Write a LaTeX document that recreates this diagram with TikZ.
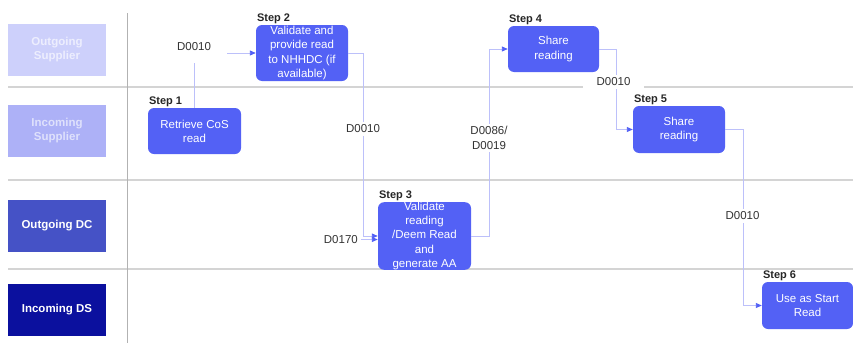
\documentclass[tikz,border=0pt]{standalone}
\usepackage{fontspec}
\setmainfont{Liberation Sans}
\usetikzlibrary{arrows.meta}
\definecolor{stepblue}{HTML}{5361F5}
\definecolor{arrowblue}{HTML}{5361F5}
\definecolor{linecol}{HTML}{BCC0FA}
\definecolor{sepcol}{HTML}{D4D4D4}
\definecolor{laneA}{HTML}{CDD0FB}
\definecolor{laneAtext}{HTML}{EDEEFE}
\definecolor{laneB}{HTML}{ADB1F7}
\definecolor{laneBtext}{HTML}{DFE1FC}
\definecolor{laneC}{HTML}{4552C6}
\definecolor{laneD}{HTML}{0B109E}
\definecolor{labcol}{HTML}{333333}
\begin{document}
\begin{tikzpicture}[x=1pt,y=-1pt,
  lanebox/.style={minimum width=98pt,minimum height=52pt,inner sep=0pt,align=center,
    font=\fontsize{11.5}{14}\selectfont\bfseries},
  stepbox/.style={rounded corners=6pt,fill=stepblue,text=white,align=center,inner sep=0pt,
    font=\fontsize{11.5}{14.2}\selectfont},
  steplab/.style={anchor=south west,inner sep=1pt,font=\fontsize{11}{13}\selectfont\bfseries,text=black!85},
  conn/.style={draw=linecol,line width=0.9pt},
  arr/.style={conn,-{Triangle[length=6pt,width=5pt,color=arrowblue]}},
  dlab/.style={fill=white,text=labcol,align=center,font=\fontsize{11.5}{14.5}\selectfont,inner sep=3pt},
  sep/.style={draw=sepcol,line width=1.1pt}]
\useasboundingbox (0,0) rectangle (853,343);
% separators
\coordinate (h1l) at (8,87);
\coordinate (h1r) at (853,87);
\coordinate (h2l) at (8,180);
\coordinate (h2r) at (853,180);
\coordinate (h3l) at (8,269);
\coordinate (h3r) at (853,269);
\coordinate (vt) at (127,13);
\coordinate (vb) at (127,343);
\draw[sep] (h1l) -- (h1r);
\draw[sep] (h2l) -- (h2r);
\draw[sep] (h3l) -- (h3r);
\draw[draw=black!30,line width=0.9pt] (vt) -- (vb);
% lane labels
\node[lanebox,fill=laneA,text=laneAtext] (laneOS) at (57,50) {Outgoing\\Supplier};
\node[lanebox,fill=laneB,text=laneBtext] (laneIS) at (57,131) {Incoming\\Supplier};
\node[lanebox,fill=laneC,text=white] (laneODC) at (57,225.5) {Outgoing DC};
\node[lanebox,fill=laneD,text=white] (laneIDS) at (57,310) {Incoming DS};
% steps
\node[stepbox,minimum width=93pt,minimum height=46pt] (s1) at (194.5,131) {Retrieve CoS\\read};
\node[stepbox,minimum width=92pt,minimum height=56pt] (s2) at (302,53) {Validate and\\provide read\\to NHHDC (if\\available)};
\node[stepbox,minimum width=93pt,minimum height=67pt] (s3) at (424.5,236) {Validate\\reading\\/Deem Read\\and\\generate AA};
\node[stepbox,minimum width=91pt,minimum height=46pt] (s4) at (553.5,49) {Share\\reading};
\node[stepbox,minimum width=92pt,minimum height=47pt] (s5) at (679,129.5) {Share\\reading};
\node[stepbox,minimum width=91pt,minimum height=47pt] (s6) at (807.5,305.5) {Use as Start\\Read};
\node[steplab] (l1) at (s1.north west) {Step 1};
\node[steplab] (l2) at (s2.north west) {Step 2};
\node[steplab] (l3) at (s3.north west) {Step 3};
\node[steplab] (l4) at (s4.north west) {Step 4};
\node[steplab] (l5) at (s5.north west) {Step 5};
\node[steplab] (l6) at (s6.north west) {Step 6};
% connectors
\draw[arr] (s1.north) |- (s2.west);
\node[dlab,inner xsep=16pt,inner ysep=12pt] (d1) at (194,47) {D0010};
\draw[arr] (s2.east) -- ++(15,0) |- (s3.west);
\node[dlab] (d2) at (363,129) {D0010};
\node[dlab,anchor=east,fill=none] (d3) at (361,239.5) {D0170};
\draw[arr] (d3.east) -- (d3.east -| s3.west);
\draw[arr] (s3.east) -- ++(18,0) |- (s4.west);
\node[dlab] (d4) at (489,138) {D0086/\\D0019};
\draw[arr] (s4.east) -- ++(17,0) |- (s5.west);
\node[dlab,inner xsep=14pt] (d5) at (613.5,82) {D0010};
\draw[arr] (s5.east) -- ++(18,0) |- (s6.west);
\node[dlab] (d6) at (742.5,216) {D0010};
\end{tikzpicture}
\end{document}
